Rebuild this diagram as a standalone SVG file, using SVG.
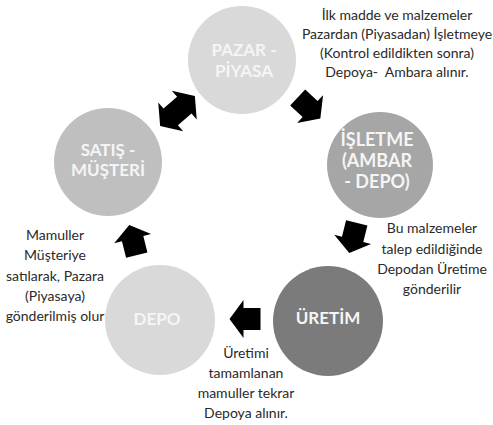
<svg xmlns="http://www.w3.org/2000/svg" width="493" height="425" viewBox="0 0 493 425">
<style>
.lbl{font-family:Lato,"Liberation Sans",sans-serif;font-weight:bold;fill:#f5f5f5;text-anchor:middle;font-size:17px}
.note{font-family:Lato,"Liberation Sans",sans-serif;fill:#2a2a2a;text-anchor:middle;font-size:14px}
.arr{fill:#000}
</style>
<defs>
<path id="a1" d="M-15.5,-11 L1.5,-11 L1.5,-19 L15.5,0 L1.5,19 L1.5,11 L-15.5,11 Z"/>
<path id="a2" d="M-23,0 L-9,-19 L-9,-11 L9,-11 L9,-19 L23,0 L9,19 L9,11 L-9,11 L-9,19 Z"/>
</defs>
<rect width="493" height="425" fill="#fff"/>
<g id="pazar">
<circle cx="242" cy="60" r="54" fill="#d9d9d9"/>
<text class="lbl"><tspan x="244" y="56">PAZAR -</tspan><tspan x="244" y="77">PİYASA</tspan></text>
</g>
<g id="isletme">
<circle cx="380" cy="165" r="53" fill="#a6a6a6"/>
<text class="lbl" style="font-size:18px"><tspan x="377" y="146">İŞLETME</tspan><tspan x="377" y="167">(AMBAR</tspan><tspan x="377" y="188">- DEPO)</tspan></text>
</g>
<g id="uretim">
<circle cx="328" cy="321" r="55" fill="#7b7b7b"/>
<text class="lbl"><tspan x="328" y="324">ÜRETİM</tspan></text>
</g>
<g id="depo">
<circle cx="160" cy="320" r="55" fill="#d9d9d9"/>
<text class="lbl"><tspan x="157" y="325">DEPO</tspan></text>
</g>
<g id="satis">
<circle cx="108" cy="162" r="54" fill="#bfbfbf"/>
<text class="lbl"><tspan x="108" y="156">SATIŞ -</tspan><tspan x="108" y="176">MÜŞTERİ</tspan></text>
</g>
<g id="connectors">
<use href="#a2" class="arr" transform="translate(177.5,111) rotate(-41)"/>
<use href="#a1" class="arr" transform="translate(309,108) rotate(43)"/>
<use href="#a1" class="arr" transform="translate(353,238) rotate(104)"/>
<use href="#a1" class="arr" transform="translate(245,319) rotate(180)"/>
<use href="#a1" class="arr" transform="translate(133,240) rotate(-104)"/>
</g>
<g id="notes">
<text class="note"><tspan x="397" y="20">İlk madde ve malzemeler</tspan><tspan x="397" y="39">Pazardan (Piyasadan) İşletmeye</tspan><tspan x="397" y="58">(Kontrol edildikten sonra)</tspan><tspan x="397" y="77">Depoya-&#160; Ambara alınır.</tspan></text>
<text class="note"><tspan x="432" y="233">Bu malzemeler</tspan><tspan x="432" y="254">talep edildiğinde</tspan><tspan x="432" y="274">Depodan Üretime</tspan><tspan x="432" y="294">gönderilir</tspan></text>
<text class="note"><tspan x="246" y="358">Üretimi</tspan><tspan x="246" y="378">tamamlanan</tspan><tspan x="246" y="398">mamuller tekrar</tspan><tspan x="246" y="418">Depoya alınır.</tspan></text>
<text class="note"><tspan x="55" y="240">Mamuller</tspan><tspan x="55" y="260">Müşteriye</tspan><tspan x="55" y="281">satılarak, Pazara</tspan><tspan x="55" y="301">(Piyasaya)</tspan><tspan x="55" y="321">gönderilmiş olur</tspan></text>
</g>
</svg>
